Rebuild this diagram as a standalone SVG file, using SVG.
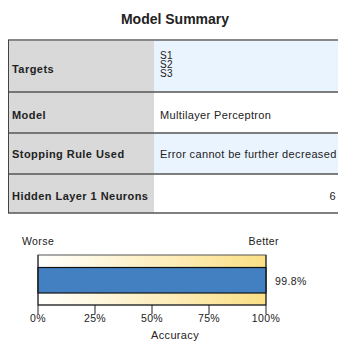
<svg xmlns="http://www.w3.org/2000/svg" width="338" height="344" viewBox="0 0 338 344">
<defs>
<linearGradient id="bg" x1="0" y1="0" x2="1" y2="0">
<stop offset="0" stop-color="#ffffff"/>
<stop offset="1" stop-color="#fbdf85"/>
</linearGradient>
<style>
text{font-family:"Liberation Sans",Arial,sans-serif;fill:#222;}
.lab{font-size:11px;font-weight:bold;letter-spacing:0.45px;}
.val{font-size:11px;letter-spacing:0.35px;}
.s{font-size:10px;letter-spacing:0.3px;}
.sm{font-size:10.5px;letter-spacing:0.4px;}
.hdr{fill:#d9d9d9;}
.blue{fill:#eaf4fe;}
.white{fill:#ffffff;}
.sep{stroke:#555;stroke-width:1.5;}
</style>
</defs>
<rect width="338" height="344" fill="#fff"/>
<text x="175" y="24" text-anchor="middle" style="font-size:14px;font-weight:bold">Model Summary</text>
<g id="table">
<rect class="hdr" x="8" y="40" width="146" height="173"/>
<rect class="blue" x="154" y="40" width="184" height="52"/>
<rect class="white" x="154" y="92" width="184" height="41"/>
<rect class="blue" x="154" y="133" width="184" height="41"/>
<rect class="white" x="154" y="174" width="184" height="39"/>
<line x1="8" y1="40" x2="338" y2="40" stroke="#888" stroke-width="2"/>
<line class="sep" x1="8" y1="92" x2="338" y2="92"/>
<line class="sep" x1="8" y1="133" x2="338" y2="133"/>
<line class="sep" x1="8" y1="174" x2="338" y2="174"/>
<line class="sep" x1="8" y1="213" x2="338" y2="213"/>
<line x1="8.5" y1="40" x2="8.5" y2="213" stroke="#444" stroke-width="1"/>
</g>
<g id="row-targets">
<text class="lab" x="12" y="73">Targets</text>
<text class="s" x="160" y="58.5">S1</text>
<text class="s" x="160" y="67.5">S2</text>
<text class="s" x="160" y="76.5">S3</text>
</g>
<g id="row-model">
<text class="lab" x="12" y="119">Model</text>
<text class="val" x="160" y="119">Multilayer Perceptron</text>
</g>
<g id="row-stopping">
<text class="lab" x="12" y="158">Stopping Rule Used</text>
<text class="val" x="160" y="158">Error cannot be further decreased</text>
</g>
<g id="row-hidden">
<text class="lab" x="12" y="200">Hidden Layer 1 Neurons</text>
<text class="val" x="336" y="200" text-anchor="end">6</text>
</g>
<g id="chart">
<text class="sm" x="22" y="245">Worse</text>
<text class="sm" x="279" y="245" text-anchor="end">Better</text>
<rect x="38" y="255" width="228" height="50" fill="url(#bg)" stroke="#555" stroke-width="1"/>
<rect x="38" y="267.5" width="228" height="25.5" fill="#4280c2" stroke="#111" stroke-width="1.2"/>
<text class="sm" x="275" y="285">99.8%</text>
<g stroke="#222" stroke-width="1">
<line x1="38" y1="255" x2="38" y2="314"/>
<line x1="38" y1="305" x2="266" y2="305"/>
<line x1="95" y1="305" x2="95" y2="314"/>
<line x1="152" y1="305" x2="152" y2="314"/>
<line x1="209" y1="305" x2="209" y2="314"/>
<line x1="266" y1="255" x2="266" y2="314"/>
</g>
<text class="sm" x="38" y="322" text-anchor="middle">0%</text>
<text class="sm" x="95" y="322" text-anchor="middle">25%</text>
<text class="sm" x="152" y="322" text-anchor="middle">50%</text>
<text class="sm" x="209" y="322" text-anchor="middle">75%</text>
<text class="sm" x="266" y="322" text-anchor="middle">100%</text>
<text class="val" x="151" y="339">Accuracy</text>
</g>
</svg>
